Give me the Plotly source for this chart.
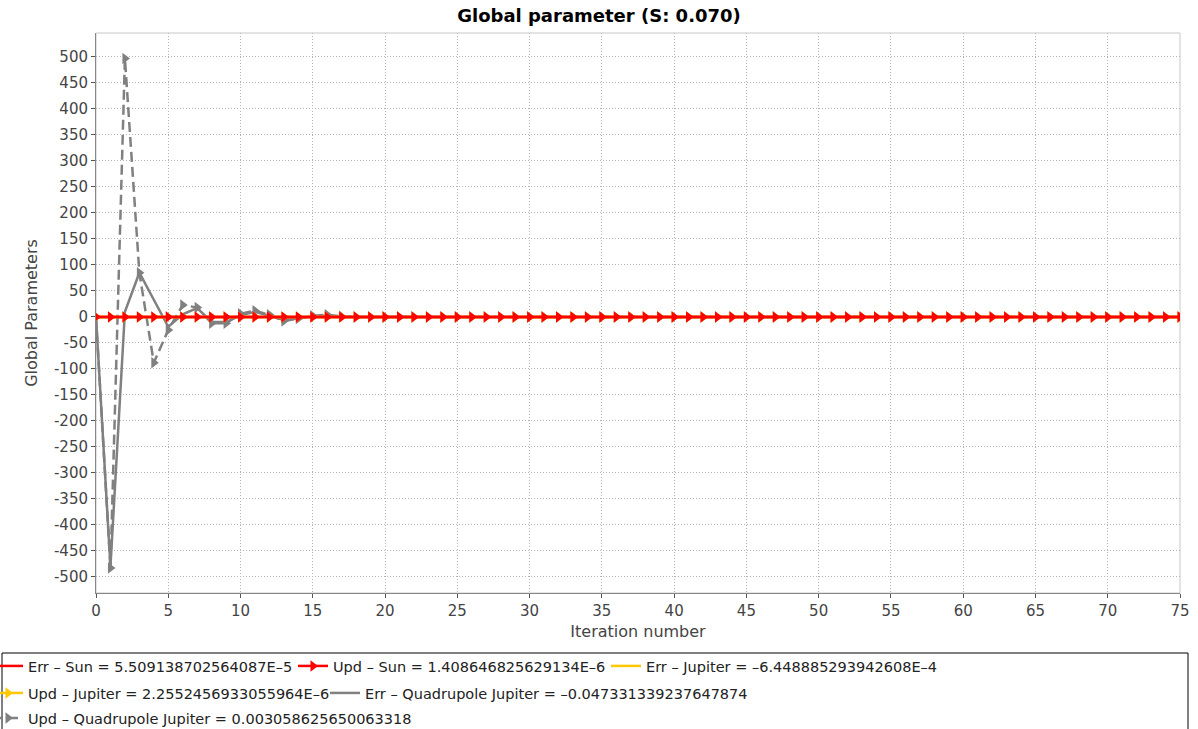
import plotly.graph_objects as go

iterations = list(range(76))

err_sun = [
    0, 0, 0, 0, 0, 0, 0, 0, 0, 0, 0, 0, 0, 0, 0, 0, 0, 0, 0, 0,
    0, 0, 0, 0, 0, 0, 0, 0, 0, 0, 0, 0, 0, 0, 0, 0, 0, 0, 0, 0,
    0, 0, 0, 0, 0, 0, 0, 0, 0, 0, 0, 0, 0, 0, 0, 0, 0, 0, 0, 0,
    0, 0, 0, 0, 0, 0, 0, 0, 0, 0, 0, 0, 0, 0, 0, 0]
upd_sun = [
    0, 0, 0, 0, 0, 0, 0, 0, 0, 0, 0, 0, 0, 0, 0, 0, 0, 0, 0, 0,
    0, 0, 0, 0, 0, 0, 0, 0, 0, 0, 0, 0, 0, 0, 0, 0, 0, 0, 0, 0,
    0, 0, 0, 0, 0, 0, 0, 0, 0, 0, 0, 0, 0, 0, 0, 0, 0, 0, 0, 0,
    0, 0, 0, 0, 0, 0, 0, 0, 0, 0, 0, 0, 0, 0, 0, 0]
err_jupiter = [
    0, 0, 0, 0, 0, 0, 0, 0, 0, 0, 0, 0, 0, 0, 0, 0, 0, 0, 0, 0,
    0, 0, 0, 0, 0, 0, 0, 0, 0, 0, 0, 0, 0, 0, 0, 0, 0, 0, 0, 0,
    0, 0, 0, 0, 0, 0, 0, 0, 0, 0, 0, 0, 0, 0, 0, 0, 0, 0, 0, 0,
    0, 0, 0, 0, 0, 0, 0, 0, 0, 0, 0, 0, 0, 0, 0, 0]
upd_jupiter = [
    0, 0, 0, 0, 0, 0, 0, 0, 0, 0, 0, 0, 0, 0, 0, 0, 0, 0, 0, 0,
    0, 0, 0, 0, 0, 0, 0, 0, 0, 0, 0, 0, 0, 0, 0, 0, 0, 0, 0, 0,
    0, 0, 0, 0, 0, 0, 0, 0, 0, 0, 0, 0, 0, 0, 0, 0, 0, 0, 0, 0,
    0, 0, 0, 0, 0, 0, 0, 0, 0, 0, 0, 0, 0, 0, 0, 0]
err_quad = [
    0, -480, 10, 85, 33, -19, 5, 17, -10, -10, 3, 10, 2, -6, -3, 1, 2, 0, 0, 0,
    0, 0, 0, 0, 0, 0, 0, 0, 0, 0, 0, 0, 0, 0, 0, 0, 0, 0, 0, 0,
    0, 0, 0, 0, 0, 0, 0, 0, 0, 0, 0, 0, 0, 0, 0, 0, 0, 0, 0, 0,
    0, 0, 0, 0, 0, 0, 0, 0, 0, 0, 0, 0, 0, 0, 0, 0]
upd_quad = [
    0, -483, 497, 85, -88, -25, 23, 18, -12, -12, 6, 12, 4, -8, -3, 2, 4, 1, 0, 0,
    0, 0, 0, 0, 0, 0, 0, 0, 0, 0, 0, 0, 0, 0, 0, 0, 0, 0, 0, 0,
    0, 0, 0, 0, 0, 0, 0, 0, 0, 0, 0, 0, 0, 0, 0, 0, 0, 0, 0, 0,
    0, 0, 0, 0, 0, 0, 0, 0, 0, 0, 0, 0, 0, 0, 0, 0]

names = [
    "Err – Sun = 5.509138702564087E–5",
    "Upd – Sun = 1.408646825629134E–6",
    "Err – Jupiter = –6.448885293942608E–4",
    "Upd – Jupiter = 2.2552456933055964E–6",
    "Err – Quadrupole Jupiter = –0.047331339237647874",
    "Upd – Quadrupole Jupiter = 0.003058625650063318",
]

y_ticks = list(range(-500, 501, 50))
x_ticks = list(range(0, 76, 5))

RED = "#FF0000"
ORANGE = "#FFC800"
GRAY = "#808080"

# (values, name, colour, mode, dash)
series = [
    (err_sun, names[0], RED, "lines", "solid"),
    (upd_sun, names[1], RED, "lines+markers", "solid"),
    (err_jupiter, names[2], ORANGE, "lines", "solid"),
    (upd_jupiter, names[3], ORANGE, "lines+markers", "solid"),
    (err_quad, names[4], GRAY, "lines", "solid"),
    (upd_quad, names[5], GRAY, "lines+markers", "10px,5px"),
]

# legend entry layout (pixel positions of text start and row centre)
legend_text_x = [28, 333, 646, 28, 365, 28]
legend_row_y = [666, 666, 666, 693, 693, 718]

legend_ids = ["legend"] + ["legend%d" % i for i in range(2, 7)]

fig = go.Figure()
# draw in reverse order so the first series sits on top
for i, (vals, name, color, mode, dash) in reversed(list(enumerate(series))):
    fig.add_trace(go.Scatter(
        x=iterations, y=vals, name=name, mode=mode,
        line=dict(color=color, width=2.5, dash=dash),
        marker=dict(symbol="triangle-right", size=10, color=color),
        legend=legend_ids[i],
    ))

PLOT_L, PLOT_W, PLOT_B, PLOT_H = 96.0, 1084.0, 593.0, 560.0
def px_x(p):
    return (p - PLOT_L) / PLOT_W
def px_y(p):
    return (PLOT_B - p) / PLOT_H

legends = {}
for i, lid in enumerate(legend_ids):
    legends[lid] = dict(orientation="h", xanchor="left", yanchor="middle",
                        x=px_x(legend_text_x[i] - 40), y=px_y(legend_row_y[i]),
                        font=dict(size=14.5, color="#222222"), itemwidth=30,
                        bgcolor="rgba(0,0,0,0)")

fig.update_layout(
    width=1198, height=729,
    margin=dict(l=96, r=18, t=33, b=136, autoexpand=False),
    paper_bgcolor="white", plot_bgcolor="white",
    font=dict(family="DejaVu Sans", color="#444444"),
    title=dict(text="Global parameter (S: 0.070)", x=0.5, xanchor="center",
               y=1 - 16 / 729, yanchor="middle", yref="container",
               font=dict(family="DejaVu Sans", size=18, color="#000000", weight="bold")),
    showlegend=True,
    shapes=[
        dict(type="rect", xref="paper", yref="paper", x0=0, x1=1, y0=0, y1=1,
             line=dict(color="#c8c8c8", width=1), layer="below"),
        dict(type="rect", xref="paper", yref="paper", x0=px_x(2), x1=px_x(1188),
             y0=px_y(653), y1=px_y(745), line=dict(color="#000000", width=1)),
    ],
    **legends,
)

fig.update_xaxes(
    range=[0, 75], tickvals=x_ticks, ticktext=[str(v) for v in x_ticks],
    showgrid=True, gridcolor="#b4b4b4", griddash="1px,2px", gridwidth=1,
    zeroline=False, showline=True, linecolor="#888888", linewidth=1,
    ticks="outside", ticklen=4, tickcolor="#555555", automargin=False,
    tickfont=dict(size=15, color="#444444"),
    title=dict(text="Iteration number", font=dict(size=16, color="#444444"), standoff=6),
)
fig.update_yaxes(
    range=[-531, 546], tickvals=y_ticks, ticktext=[str(v) for v in y_ticks],
    showgrid=True, gridcolor="#b4b4b4", griddash="1px,2px", gridwidth=1,
    zeroline=False, showline=True, linecolor="#888888", linewidth=1,
    ticks="outside", ticklen=4, tickcolor="#555555", automargin=False,
    tickfont=dict(size=15, color="#444444"),
    title=dict(text="Global Parameters", font=dict(size=16, color="#444444"), standoff=12),
)

fig.write_html("out.html", config={"displayModeBar": False},
               post_script="document.body.style.margin='0';document.body.style.overflow='hidden';")
